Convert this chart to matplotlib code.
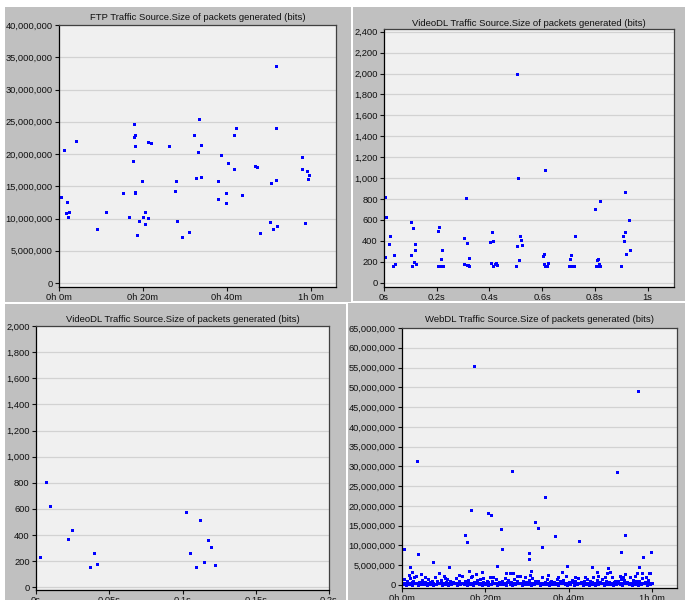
import numpy as np
import matplotlib
matplotlib.use("Agg")
import matplotlib.pyplot as plt
from matplotlib.patches import Rectangle
from matplotlib.ticker import FuncFormatter

# FTP source, time in minutes, size in bits
ftp_t = [0.56, 1.1, 1.75, 2.0, 2.1, 2.5, 4.0, 9.1, 11.1, 15.3,
         16.7, 17.6, 17.8, 17.9, 18.0, 18.0, 18.0, 18.0, 18.6, 19.1,
         19.8, 19.9, 20.4, 20.6, 21.2, 21.3, 21.9, 26.2, 27.6, 27.9,
         28.0, 29.2, 31.0, 32.2, 32.6, 33.2, 33.4, 33.8, 33.9, 37.8,
         37.9, 38.5, 39.7, 39.9, 40.3, 41.7, 41.7, 42.1, 43.5, 46.8,
         47.2, 47.9, 50.2, 50.6, 51.0, 51.6, 51.7, 51.8, 52.0, 57.9,
         58.0, 58.6, 59.0, 59.4, 59.5]
ftp_v = [13.35e6, 20.6e6, 10.9e6, 12.5e6, 10.2e6, 11.0e6, 22.0e6, 8.3e6, 11.0e6, 13.9e6,
         10.2e6, 18.9e6, 24.6e6, 22.7e6, 23.0e6, 21.2e6, 14.1e6, 13.9e6, 7.4e6, 9.6e6,
         15.8e6, 10.2e6, 11.0e6, 9.2e6, 21.9e6, 10.1e6, 21.7e6, 21.2e6, 14.2e6, 15.8e6,
         9.6e6, 7.1e6, 7.9e6, 22.9e6, 16.3e6, 20.3e6, 25.5e6, 16.5e6, 21.4e6, 15.8e6,
         13.1e6, 19.8e6, 13.9e6, 12.4e6, 18.6e6, 23.0e6, 17.7e6, 24.1e6, 13.6e6, 18.1e6,
         18.0e6, 7.8e6, 9.5e6, 15.5e6, 8.4e6, 24.1e6, 33.6e6, 15.9e6, 8.8e6, 19.6e6,
         17.6e6, 9.3e6, 17.3e6, 16.1e6, 16.8e6]

# VideoDL source over 1 s
video_t = [0.003, 0.004, 0.008, 0.020, 0.024, 0.035, 0.039, 0.043,
           0.101, 0.104, 0.108, 0.110, 0.113, 0.117, 0.119, 0.120,
           0.203, 0.204, 0.209, 0.209, 0.215, 0.219, 0.219, 0.224,
           0.303, 0.304, 0.312, 0.313, 0.316, 0.319, 0.322, 0.323,
           0.402, 0.404, 0.408, 0.412, 0.414, 0.421, 0.425, 0.427,
           0.501, 0.506, 0.506, 0.510, 0.512, 0.516, 0.520, 0.522,
           0.602, 0.605, 0.608, 0.611, 0.611, 0.617, 0.621,
           0.703, 0.706, 0.710, 0.712, 0.719, 0.722, 0.725,
           0.801, 0.805, 0.807, 0.810, 0.814, 0.816, 0.821, 0.820,
           0.900, 0.905, 0.909, 0.914, 0.916, 0.919, 0.929, 0.932]
video_v = [242, 816, 628, 373, 443, 163, 261, 175,
           583, 261, 163, 519, 201, 366, 309, 175,
           163, 494, 529, 163, 226, 309, 163, 163,
           427, 175, 806, 169, 379, 169, 233, 163,
           389, 185, 481, 398, 163, 175, 185, 169,
           163, 1998, 354, 1001, 214, 443, 405, 363,
           258, 175, 271, 1080, 163, 163, 191,
           163, 223, 261, 163, 163, 163, 443,
           707, 163, 214, 226, 175, 163, 784, 163,
           163, 443, 398, 864, 481, 277, 599, 309]

# VideoDL source, first 0.2 s
video_zoom_t = [0.0025, 0.0071, 0.0098, 0.0216, 0.0243, 0.0369, 0.0398, 0.0419,
                0.1026, 0.1049, 0.1094, 0.1122, 0.1145, 0.1174, 0.1195, 0.1224]
video_zoom_v = [235, 809, 620, 367, 439, 153, 260, 179,
                577, 260, 153, 513, 196, 362, 306, 173]

# WebDL source, time in minutes: the sparse large packets
web_t = [0.48, 1.8, 3.7, 3.8, 4.5, 7.4, 8.9, 11.2, 15.2, 15.7,
         16.0, 16.5, 17.2, 17.7, 19.3, 20.7, 21.3, 22.9, 23.8, 24.1,
         25.0, 26.3, 26.7, 27.7, 30.4, 30.4, 30.9, 32.0, 32.6, 33.6,
         34.2, 36.8, 39.5, 42.4, 45.6, 46.7, 49.5, 49.9, 51.6, 52.5,
         53.5, 53.6, 56.7, 56.8, 57.8, 59.4, 59.8,
         1.6, 2.4, 2.8, 5.6, 10.1, 10.4, 13.6, 16.8, 19.5, 21.9,
         25.9, 29.5, 30.7, 35.1, 37.5, 38.3, 41.5, 43.9, 47.1, 48.7,
         49.1, 52.3, 53.1, 54.7, 55.9, 56.4, 57.7, 58.6, 59.2]
web_v = [9.2e6, 4.6e6, 31.3e6, 7.9e6, 2.8e6, 5.8e6, 3.1e6, 4.6e6, 12.6e6, 10.9e6,
         3.5e6, 18.9e6, 55.3e6, 2.7e6, 3.3e6, 18.3e6, 17.7e6, 4.8e6, 14.1e6, 9.0e6,
         3.0e6, 28.8e6, 3.1e6, 2.4e6, 8.2e6, 6.5e6, 3.5e6, 16.0e6, 14.4e6, 9.6e6,
         22.2e6, 12.4e6, 4.8e6, 11.1e6, 4.6e6, 3.3e6, 4.2e6, 3.4e6, 28.6e6, 8.4e6,
         12.6e6, 2.8e6, 49.1e6, 4.6e6, 7.1e6, 3.0e6, 8.4e6,
         2.5e6, 3.4e6, 2.1e6, 1.9e6, 2.4e6, 1.7e6, 2.5e6, 2.4e6, 1.7e6, 2.1e6,
         3.1e6, 2.1e6, 2.5e6, 2.5e6, 2.1e6, 3.4e6, 1.9e6, 2.1e6, 2.4e6, 2.1e6,
         3.0e6, 2.3e6, 2.1e6, 2.1e6, 2.3e6, 3.0e6, 3.0e6, 1.9e6, 3.0e6]

# WebDL source: the dense band of small packets (millions of bits)
web_band_t = [0.2, 0.5, 0.9, 1.2, 1.6, 1.9, 2.3, 2.7, 3.0, 3.4,
              3.8, 4.1, 4.5, 4.9, 5.2, 5.6, 6.0, 6.3, 6.7, 7.1,
              7.4, 7.8, 8.2, 8.5, 8.9, 9.3, 9.6, 10.0, 10.4, 10.7,
              11.1, 11.5, 11.8, 12.2, 12.6, 12.9, 13.3, 13.7, 14.0, 14.4,
              14.8, 15.1, 15.5, 15.9, 16.2, 16.6, 17.0, 17.3, 17.7, 18.1,
              18.4, 18.8, 19.2, 19.5, 19.9, 20.3, 20.6, 21.0, 21.4, 21.7,
              22.1, 22.5, 22.8, 23.2, 23.6, 23.9, 24.3, 24.7, 25.0, 25.4,
              25.8, 26.1, 26.5, 26.9, 27.2, 27.6, 28.0, 28.3, 28.7, 29.1,
              29.4, 29.8, 30.2, 30.5, 30.9, 31.3, 31.6, 32.0, 32.4, 32.7,
              33.1, 33.5, 33.8, 34.2, 34.6, 34.9, 35.3, 35.7, 36.0, 36.4,
              36.8, 37.1, 37.5, 37.9, 38.2, 38.6, 39.0, 39.3, 39.7, 40.1,
              40.4, 40.8, 41.2, 41.5, 41.9, 42.3, 42.6, 43.0, 43.4, 43.7,
              44.1, 44.5, 44.8, 45.2, 45.6, 45.9, 46.3, 46.7, 47.0, 47.4,
              47.8, 48.1, 48.5, 48.9, 49.2, 49.6, 50.0, 50.3, 50.7, 51.1,
              51.4, 51.8, 52.2, 52.5, 52.9, 53.3, 53.6, 54.0, 54.4, 54.7,
              55.1, 55.5, 55.8, 56.2, 56.6, 56.9, 57.3, 57.7, 58.0, 58.4,
              58.8, 59.1, 59.5, 59.9]
web_band_v = [0.2, 1.4, 0.1, 0.9, 0.3, 1.8, 0.0, 1.1, 0.4, 2.2,
              0.1, 0.8, 0.3, 1.3, 0.2, 0.7, 0.0, 1.6, 0.3, 1.0,
              0.1, 2.0, 0.2, 0.9, 0.4, 1.2, 0.1, 0.6, 0.3, 1.5,
              0.0, 1.1, 0.2, 0.8, 0.4, 1.7, 0.1, 1.0, 0.3, 2.4,
              0.2, 0.9, 0.0, 1.3, 0.3, 1.9, 0.1, 0.8, 0.4, 1.2,
              0.2, 1.6, 0.1, 0.7, 0.3, 1.1, 0.0, 2.1, 0.2, 0.9,
              0.4, 1.4, 0.1, 0.8, 0.3, 1.0, 0.2, 1.8, 0.0, 1.2,
              0.3, 0.7, 0.1, 1.5, 0.2, 0.9, 0.4, 2.3, 0.1, 1.1,
              0.2, 0.8, 0.3, 1.3, 0.0, 1.7, 0.2, 0.9, 0.4, 1.0,
              0.1, 2.0, 0.3, 0.8, 0.2, 1.4, 0.0, 1.1, 0.3, 0.7,
              0.2, 1.6, 0.1, 0.9, 0.4, 1.2, 0.2, 2.2, 0.0, 0.8,
              0.3, 1.3, 0.1, 1.0, 0.2, 1.8, 0.4, 0.7, 0.1, 1.1,
              0.2, 1.5, 0.0, 0.9, 0.3, 2.0, 0.1, 1.2, 0.2, 0.8,
              0.4, 1.4, 0.1, 1.0, 0.3, 0.7, 0.2, 1.9, 0.0, 1.1,
              0.3, 0.9, 0.2, 1.6, 0.1, 1.2, 0.4, 0.8, 0.2, 2.1,
              0.0, 1.3, 0.3, 0.9, 0.1, 1.0, 0.2, 1.7, 0.4, 0.8,
              0.1, 1.2, 0.3, 0.6]
# second pass through the band, mid-height packets (millions of bits)
web_band2_t = [0.4, 1.1, 1.8, 2.5, 3.2, 3.9, 4.6, 5.3, 6.1, 6.8,
               7.5, 8.3, 9.0, 9.7, 10.5, 11.2, 11.9, 12.7, 13.4, 14.1,
               14.9, 15.6, 16.3, 17.1, 17.8, 18.5, 19.3, 20.0, 20.7, 21.5,
               22.2, 22.9, 23.7, 24.4, 25.1, 25.9, 26.6, 27.3, 28.1, 28.8,
               29.5, 30.3, 31.0, 31.7, 32.5, 33.2, 33.9, 34.7, 35.4, 36.1,
               36.9, 37.6, 38.3, 39.1, 39.8, 40.5, 41.3, 42.0, 42.7, 43.5,
               44.2, 44.9, 45.7, 46.4, 47.1, 47.9, 48.6, 49.3, 50.1, 50.8,
               51.5, 52.3, 53.0, 53.7, 54.5, 55.2, 55.9, 56.7, 57.4, 58.1,
               58.9, 59.6]
web_band2_v = [0.5, 0.6, 0.4, 0.7, 0.5, 0.6, 0.5, 0.4, 0.6, 0.7,
               0.5, 0.4, 0.6, 0.5, 0.7, 0.5, 0.4, 0.6, 0.5, 0.6,
               0.4, 0.7, 0.5, 0.6, 0.5, 0.4, 0.6, 0.5, 0.7, 0.5,
               0.6, 0.4, 0.5, 0.6, 0.7, 0.5, 0.4, 0.6, 0.5, 0.6,
               0.5, 0.7, 0.4, 0.5, 0.6, 0.5, 0.6, 0.4, 0.7, 0.5,
               0.6, 0.5, 0.4, 0.6, 0.5, 0.7, 0.5, 0.6, 0.4, 0.5,
               0.6, 0.5, 0.7, 0.4, 0.5, 0.6, 0.5, 0.6, 0.4, 0.7,
               0.5, 0.6, 0.5, 0.4, 0.6, 0.5, 0.7, 0.5, 0.6, 0.4,
               0.5, 0.6]

TITLE_FTP = "FTP Traffic Source.Size of packets generated (bits)"
TITLE_VIDEO = "VideoDL Traffic Source.Size of packets generated (bits)"
TITLE_WEB = "WebDL Traffic Source.Size of packets generated (bits)"

min_ticks = [0, 20, 40, 60]
min_labels = ["0h 0m", "0h 20m", "0h 40m", "1h 0m"]
sec_ticks = [0, 0.2, 0.4, 0.6, 0.8, 1.0]
sec_labels = ["0s", "0.2s", "0.4s", "0.6s", "0.8s", "1s"]
zoom_ticks = [0, 0.05, 0.1, 0.15, 0.2]
zoom_labels = ["0s", "0.05s", "0.1s", "0.15s", "0.2s"]

W, H = 685, 600
PANEL = "#c0c0c0"
PLOT_BG = "#f0f0f0"

plt.rcParams["font.family"] = ["Liberation Sans", "DejaVu Sans"]
fig = plt.figure(figsize=(W / 100, H / 100), dpi=100, facecolor="white")


def px_box(x0, y0, x1, y1):
    # pixel box (top-left origin) -> figure fraction [left, bottom, width, height]
    return [x0 / W, 1 - y1 / H, (x1 - x0) / W, (y1 - y0) / H]


def add_panel(box):
    l, b, w, h = px_box(*box)
    fig.add_artist(Rectangle((l, b), w, h, transform=fig.transFigure,
                             facecolor=PANEL, edgecolor="none", zorder=0))


def make_plot(box, title, title_y, xs, ys, xlim, ylim, yticks, xticks, xlabels):
    ax = fig.add_axes(px_box(*box))
    ax.set_facecolor(PLOT_BG)
    for x, y in zip(xs, ys):
        # crisp 3px squares like the original bitmap markers
        ax.plot(x, y, linestyle="none", marker="s", markersize=2.16,
                markeredgewidth=0, color="#0000ff", antialiased=False)
    ax.set_xlim(*xlim)
    ax.set_ylim(*ylim)
    ax.set_yticks(yticks)
    ax.yaxis.set_major_formatter(FuncFormatter(lambda v, p: f"{v:,.0f}"))
    ax.set_xticks(xticks)
    ax.set_xticklabels(xlabels)
    ax.grid(axis="y", color="#d2d2d2", linewidth=0.9)
    ax.set_axisbelow(True)
    ax.tick_params(labelsize=6.7, length=3, width=0.8, pad=1.5, colors="#101010")
    for s in ax.spines.values():
        s.set_color("#404040")
        s.set_linewidth(0.9)
    ax.spines["left"].set_color("black")
    ax.spines["bottom"].set_color("black")
    # title centred over the plot area
    cx = (box[0] + box[2]) / 2 / W
    fig.text(cx, 1 - title_y / H, title, ha="center", va="center",
             fontsize=6.8, color="#101010")
    return ax


# grey panel backgrounds, white gaps between them
add_panel((5, 7, 351, 302))
add_panel((353, 7, 685, 301))
add_panel((5, 304, 346, 600))
add_panel((348, 303, 685, 600))

# top left: FTP
make_plot((59, 25, 336, 287), TITLE_FTP, 17,
          [ftp_t], [ftp_v], (0, 66), (-0.62e6, 40e6),
          np.arange(0, 40.1e6, 5e6), min_ticks, min_labels)

# top right: VideoDL, 1 s
make_plot((384, 29, 674, 287), TITLE_VIDEO, 23,
          [video_t], [video_v], (0, 1.1), (-41, 2426),
          np.arange(0, 2401, 200), sec_ticks, sec_labels)

# bottom left: VideoDL, first 0.2 s
make_plot((36, 326, 329, 590), TITLE_VIDEO, 319,
          [video_zoom_t], [video_zoom_v], (0, 0.2), (-21, 2000),
          np.arange(0, 2001, 200), zoom_ticks, zoom_labels)

# bottom right: WebDL
make_plot((402, 328, 677, 588), TITLE_WEB, 319,
          [web_t, web_band_t, web_band2_t],
          [web_v, np.array(web_band_v) * 1e6, np.array(web_band2_v) * 1e6],
          (0, 66), (-0.76e6, 65e6),
          np.arange(0, 65.1e6, 5e6), min_ticks, min_labels)

fig.savefig("out.png", dpi=100, facecolor="white")
